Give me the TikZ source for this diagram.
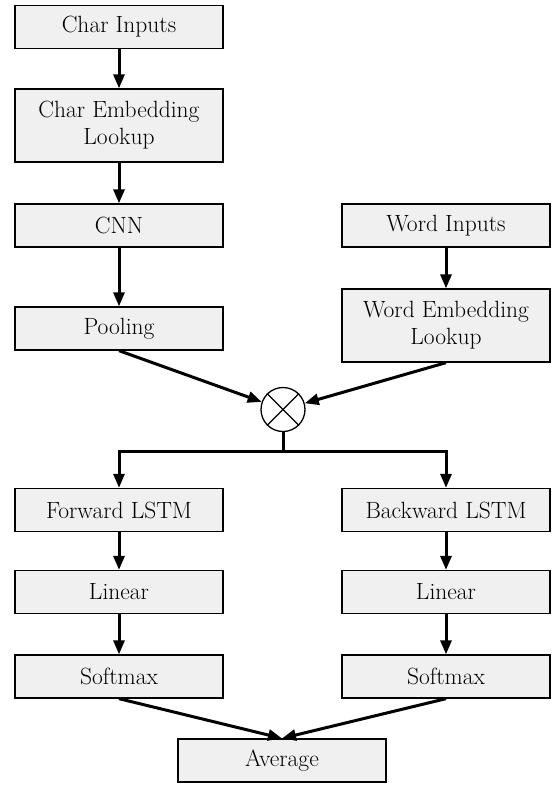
\documentclass[tikz,border=0pt]{standalone}
\usetikzlibrary{arrows.meta}
\begin{document}
\begin{tikzpicture}[x=1pt,y=-1pt,
  box/.style={draw=black,line width=1.3pt,fill=gray!12,minimum width=208pt,minimum height=43pt,inner sep=0pt,align=center,font=\fontsize{23.5}{27}\selectfont},
  tall/.style={box,minimum height=73pt},
  arr/.style={line width=3pt,-{Triangle[length=14pt,width=11pt]}},
  ln/.style={line width=3pt}]
\useasboundingbox (0,0) rectangle (554,785);
\node[box] (ci) at (119,27) {Char Inputs};
\node[tall] (ce) at (119,125.5) {Char Embedding\\Lookup};
\node[box] (cnn) at (119,225.5) {CNN};
\node[box] (pool) at (119,328.5) {Pooling};
\node[box] (wi) at (446,225.5) {Word Inputs};
\node[tall] (we) at (446,325.5) {Word Embedding\\Lookup};
\node[draw,line width=1.3pt,circle,minimum size=44pt,inner sep=0pt] (cat) at (283,409.5) {};
\draw[line width=1.3pt] (cat.45) -- (cat.225) (cat.135) -- (cat.315);
\node[box] (fl) at (119,510) {Forward LSTM};
\node[box] (bl) at (446,510) {Backward LSTM};
\node[box] (l1) at (119,592) {Linear};
\node[box] (l2) at (446,592) {Linear};
\node[box] (s1) at (119,676.5) {Softmax};
\node[box] (s2) at (446,676.5) {Softmax};
\node[box] (avg) at (282,760.5) {Average};
\coordinate (br) at (283,451);
\draw[arr] (ci) -- (ce);
\draw[arr] (ce) -- (cnn);
\draw[arr] (cnn) -- (pool);
\draw[arr] (wi) -- (we);
\draw[arr] (pool.south) -- (cat);
\draw[arr] (we.south) -- (cat);
\draw[ln] (cat.south) -- (br);
\draw[arr] (br) -| (fl.north);
\draw[arr] (br) -| (bl.north);
\draw[arr] (fl) -- (l1);
\draw[arr] (l1) -- (s1);
\draw[arr] (bl) -- (l2);
\draw[arr] (l2) -- (s2);
\draw[arr] (s1.south) -- (avg.north);
\draw[arr] (s2.south) -- (avg.north);
\end{tikzpicture}
\end{document}
